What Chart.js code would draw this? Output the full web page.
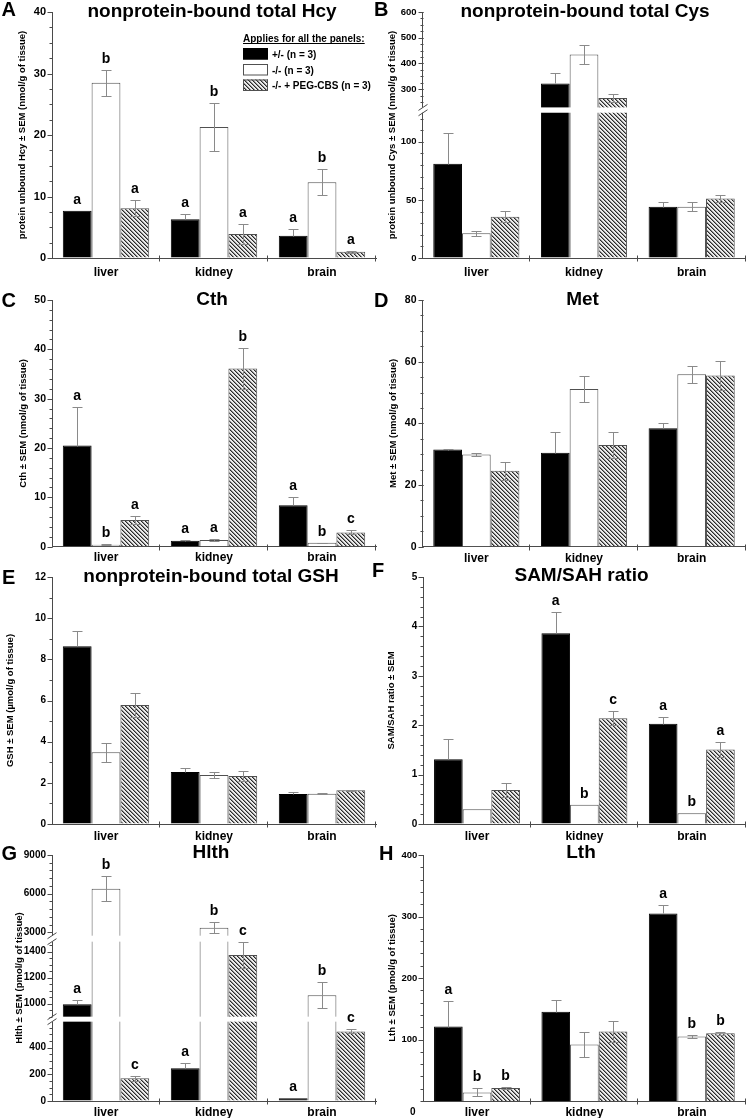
<!DOCTYPE html>
<html>
<head>
<meta charset="utf-8">
<script src="https://cdn.jsdelivr.net/npm/chart.js@4.4.1/dist/chart.umd.min.js"></script>
<style>
  body { margin: 0; background: #fff; width: 747px; height: 1118px; position: relative; overflow: hidden;
         font-family: "Liberation Sans", Arial, Helvetica, sans-serif; }
  canvas { position: absolute; }
  .txt { position: absolute; font-weight: bold; color: #000; white-space: nowrap; line-height: 1; }
</style>
</head>
<body>
<script>
// ---- data: rows = [+/-, -/-, -/- + PEG-CBS], columns = categories ----
const categories = ['liver', 'kidney', 'brain'];
const groups = ['+/- (n = 3)', '-/- (n = 3)', '-/- + PEG-CBS (n = 3)'];

const hcyMean = [[7.7, 6.3, 3.6], [28.5, 21.3, 12.3], [8.1, 3.9, 1.0]];
const hcySem = [[0, 0.9, 1.1], [2.1, 3.9, 2.1], [1.3, 1.6, 0.15]];
const hcyLetters = [['a', 'a', 'a'], ['b', 'b', 'b'], ['a', 'a', 'a']];
const hcyTicks = [0, 10, 20, 30, 40];

const cysMean = [[81, 322, 44.2], [21.3, 435, 44.2], [35.6, 266, 51.1]];
const cysSem = [[26.5, 39, 3.8], [2, 36, 3.8], [4.5, 17, 3.2]];
const cysTicks = [0, 50, 100, 300, 400, 500, 600];

const cthMean = [[20.5, 1.2, 8.4], [0.4, 1.35, 0.8], [5.4, 36.1, 2.9]];
const cthSem = [[7.9, 0.1, 1.7], [0.05, 0.15, 0.05], [0.8, 4.2, 0.4]];
const cthLetters = [['a', 'a', 'a'], ['b', 'a', 'b'], ['a', 'b', 'c']];
const cthTicks = [0, 10, 20, 30, 40, 50];

const metMean = [[31.5, 30.5, 38.4], [29.9, 51.1, 55.9], [24.6, 33.0, 55.5]];
const metSem = [[0.15, 6.6, 1.6], [0.6, 4.1, 2.8], [3.0, 4.1, 4.8]];
const metTicks = [0, 20, 40, 60, 80];

const gshMean = [[8.63, 2.53, 1.46], [3.48, 2.38, 1.47], [5.78, 2.33, 1.64]];
const gshSem = [[0.74, 0.19, 0.09], [0.46, 0.13, 0.03], [0.6, 0.24, 0.02]];
const gshTicks = [0, 2, 4, 6, 8, 10, 12];

const samMean = [[1.31, 3.86, 2.03], [0.30, 0.39, 0.22], [0.69, 2.14, 1.51]];
const samSem = [[0.41, 0.44, 0.14], [0, 0, 0], [0.14, 0.14, 0.16]];
const samLetters = [['', 'a', 'a'], ['', 'b', 'b'], ['', 'c', 'a']];
const samTicks = [0, 1, 2, 3, 4, 5];

const hlthMean = [[995, 245, 20], [6390, 3360, 1064], [170, 1374, 522]];
const hlthSem = [[30, 37, 0], [960, 410, 100], [17, 98, 15]];
const hlthLetters = [['a', 'a', 'a'], ['b', 'b', 'b'], ['c', 'c', 'c']];
const hlthTicks = [0, 200, 400, 1000, 1200, 1400, 3000, 6000, 9000];

const lthMean = [[121, 145, 305], [14, 92, 105], [21, 113, 110]];
const lthSem = [[42, 20, 13.5], [6.5, 20.6, 2], [1, 17, 2]];
const lthLetters = [['a', '', 'a'], ['b', '', 'b'], ['b', '', 'b']];
const lthTicks = [100, 200, 300, 400];

// ---- look ----
const FONT = '"Liberation Sans", Arial, Helvetica, sans-serif';
const AXIS = '#4a4a4a';
const ERR = '#8a8a8a';
Chart.defaults.font.family = FONT;
Chart.defaults.color = '#000';

function hatch() {
  const c = document.createElement('canvas');
  c.width = c.height = 4;
  const g = c.getContext('2d');
  g.fillStyle = '#ececec'; g.fillRect(0, 0, 4, 4);
  g.fillStyle = '#8f8f8f';
  for (let i = 0; i < 4; i++) g.fillRect((i + 1) % 4, i, 1, 1);
  g.fillStyle = '#2a2a2a';
  for (let i = 0; i < 4; i++) g.fillRect(i, i, 1, 1);
  return g.createPattern(c, 'repeat');
}
const fills = ['#000', '#fff', hatch()];
const borders = ['#000', '#505050', '#505050'];

// ---- panels (segments: [fromValue, toValue, fromFraction, toFraction]) ----
const rows = [[12, 258], [300, 546.7], [577.3, 824.3], [855, 1101]];
const panels = [
  { key: 'A', col: 0, row: 0, mean: hcyMean, sem: hcySem, letters: hcyLetters, ticks: hcyTicks,
    segs: [[0, 40, 0, 1]], minor: [[0, 40, 2.5]], xPad: 3, titleX: 22, tickSize: 11,
    yTitle: 'protein unbound Hcy ± SEM (nmol/g of tissue)', legend: true },
  { key: 'B', col: 1, row: 0, mean: cysMean, sem: cysSem, ticks: cysTicks,
    segs: [[0, 125, 0, 0.5905], [229, 600, 0.6122, 1]], minor: [[0, 120, 10], [250, 600, 25]], xPad: 3, titleX: 392, tickSize: 9.5,
    yTitle: 'protein unbound Cys ± SEM (nmol/g of tissue)' },
  { key: 'C', col: 0, row: 1, mean: cthMean, sem: cthSem, letters: cthLetters, ticks: cthTicks,
    segs: [[0, 50, 0, 1]], minor: [[0, 50, 2]], xPad: 0, titleX: 23, tickSize: 10.5,
    yTitle: 'Cth ± SEM (nmol/g of tissue)' },
  { key: 'D', col: 1, row: 1, mean: metMean, sem: metSem, ticks: metTicks,
    segs: [[0, 80, 0, 1]], minor: [[0, 80, 5]], xPad: 1, titleX: 393, tickSize: 10.5,
    yTitle: 'Met ± SEM (nmol/g of tissue)' },
  { key: 'E', col: 0, row: 2, mean: gshMean, sem: gshSem, ticks: gshTicks,
    segs: [[0, 12, 0, 1]], minor: [[0, 12, 1]], xPad: 1, titleX: 10, tickSize: 10,
    yTitle: 'GSH ± SEM (µmol/g of tissue)' },
  { key: 'F', col: 1, row: 2, mean: samMean, sem: samSem, letters: samLetters, ticks: samTicks,
    segs: [[0, 5, 0, 1]], minor: [[0, 5, 0.2]], xPad: 1, titleX: 391, left: 423.3, tickSize: 10,
    yTitle: 'SAM/SAH ratio ± SEM' },
  { key: 'G', col: 0, row: 3, mean: hlthMean, sem: hlthSem, letters: hlthLetters, ticks: hlthTicks,
    segs: [[0, 595, 0, 0.3225], [900, 1477, 0.3428, 0.6477], [2742, 9000, 0.672, 1]],
    minor: [[0, 550, 50], [900, 1450, 50], [3000, 9000, 600]], xPad: 0, titleX: 19, tickSize: 10,
    yTitle: 'Hlth ± SEM (pmol/g of tissue)' },
  { key: 'H', col: 1, row: 3, mean: lthMean, sem: lthSem, letters: lthLetters, ticks: lthTicks,
    segs: [[0, 400, 0, 1]], minor: [[0, 400, 20]], xPad: 0, titleX: 392, left: 423.3, tickSize: 9.5,
    yTitle: 'Lth ± SEM (pmol/g of tissue)' }
];
const byId = {};

function valueToDec(segs, v) {
  const s0 = segs[0];
  if (v <= s0[1]) return s0[2] + (v - s0[0]) / (s0[1] - s0[0]) * (s0[3] - s0[2]);
  for (let i = 1; i < segs.length; i++) {
    const [a, b, f0, f1] = segs[i], p = segs[i - 1];
    if (v < a) return p[3] + (v - p[1]) / (a - p[1]) * (f0 - p[3]);
    if (v <= b || i === segs.length - 1) return f0 + (v - a) / (b - a) * (f1 - f0);
  }
}

// linear scale with optional breaks
const LinearScale = Chart.registry.getScale('linear');
class BrokenScale extends LinearScale {
  static id = 'broken';
  static defaults = {};
  buildTicks() {
    const p = byId[this.chart.canvas.id];
    this.min = p.segs[0][0];
    this.max = p.segs[p.segs.length - 1][1];
    return p.ticks.map(v => ({ value: v }));
  }
  getPixelForValue(v) {
    if (v === null || isNaN(v)) return NaN;
    return this.getPixelForDecimal(valueToDec(byId[this.chart.canvas.id].segs, v));
  }
  getValueForPixel(px) {
    const d = this.getDecimalForPixel(px);
    const segs = byId[this.chart.canvas.id].segs;
    for (const [a, b, f0, f1] of segs) if (d <= f1) return a + (d - f0) / (f1 - f0) * (b - a);
    return this.max;
  }
}
Chart.register(BrokenScale);

const extras = {
  id: 'extras',
  afterDatasetsDraw(chart) {
    const p = byId[chart.canvas.id];
    const ctx = chart.ctx, ys = chart.scales.y, area = chart.chartArea;
    const ax = Math.round(area.left) + 0.5;
    ctx.save();
    ctx.lineWidth = 1;
    // error bars
    ctx.strokeStyle = ERR;
    p.mean.forEach((vals, i) => {
      const meta = chart.getDatasetMeta(i);
      vals.forEach((v, j) => {
        const e = p.sem[i][j];
        if (!e) return;
        const x = Math.round(meta.data[j].x) + 0.5;
        const hi = Math.round(ys.getPixelForValue(v + e)) + 0.5;
        const lo = Math.round(ys.getPixelForValue(i === 0 ? v : v - e)) + 0.5;
        ctx.beginPath();
        ctx.moveTo(x, lo); ctx.lineTo(x, hi);
        ctx.moveTo(x - 5, hi); ctx.lineTo(x + 5, hi);
        if (i !== 0) { ctx.moveTo(x - 5, lo); ctx.lineTo(x + 5, lo); }
        ctx.stroke();
      });
    });
    // axis breaks
    for (let k = 0; k + 1 < p.segs.length; k++) {
      const yLow = ys.getPixelForValue(p.segs[k][1]);
      const yHigh = ys.getPixelForValue(p.segs[k + 1][0]);
      ctx.fillStyle = '#fff';
      ctx.fillRect(area.left - 2, yHigh, area.right - area.left + 2, yLow - yHigh);
      ctx.strokeStyle = AXIS;
      ctx.beginPath();
      [yLow, yHigh].forEach(y => { ctx.moveTo(ax - 5, y + 3); ctx.lineTo(ax + 4, y - 3); });
      ctx.stroke();
    }
    // y ticks (major + minor)
    ctx.strokeStyle = AXIS;
    ctx.beginPath();
    p.minor.forEach(([a, b, step]) => {
      for (let v = a; v <= b + 1e-9; v += step) {
        const y = Math.round(ys.getPixelForValue(v)) + 0.5;
        ctx.moveTo(ax - 3, y); ctx.lineTo(ax, y);
      }
    });
    p.ticks.forEach(v => {
      const y = Math.round(ys.getPixelForValue(v)) + 0.5;
      ctx.moveTo(ax - 5, y); ctx.lineTo(ax, y);
    });
    // x ticks at category borders
    const by = Math.round(area.bottom) + 0.5;
    for (let k = 1; k <= categories.length; k++) {
      const x = Math.round(area.left + k * (area.right - area.left) / categories.length) - 0.5;
      ctx.moveTo(x, by - 3); ctx.lineTo(x, by + 3);
    }
    ctx.stroke();
    // significance letters
    if (p.letters) {
      ctx.fillStyle = '#000';
      ctx.font = 'bold 14px ' + FONT;
      ctx.textAlign = 'center';
      ctx.textBaseline = 'alphabetic';
      p.letters.forEach((ls, i) => {
        const meta = chart.getDatasetMeta(i);
        ls.forEach((t, j) => {
          if (!t) return;
          const y = ys.getPixelForValue(p.mean[i][j] + p.sem[i][j]) - 7;
          ctx.fillText(t, meta.data[j].x, y);
        });
      });
    }
    ctx.restore();
  },
  afterDraw(chart) {
    const p = byId[chart.canvas.id];
    if (!p.legend) return;
    const ctx = chart.ctx;
    const ox = -p.cx, oy = -p.top;
    ctx.save();
    ctx.fillStyle = '#000';
    ctx.font = 'bold 10px ' + FONT;
    ctx.textAlign = 'left';
    ctx.textBaseline = 'alphabetic';
    const head = 'Applies for all the panels:';
    ctx.fillText(head, 243 + ox, 41.5 + oy);
    const w = ctx.measureText(head).width;
    ctx.fillRect(243 + ox, 43 + oy, w, 1);
    [48, 64, 79.5].forEach((y, i) => {
      ctx.fillStyle = fills[i];
      ctx.fillRect(243 + ox, y + oy, 25, 11.5);
      ctx.strokeStyle = borders[i];
      ctx.lineWidth = 1;
      ctx.strokeRect(243.5 + ox, y + 0.5 + oy, 24, 10.5);
      ctx.fillStyle = '#000';
      ctx.fillText(groups[i], 272 + ox, y + 9.5 + oy);
    });
    ctx.restore();
  }
};

panels.forEach(p => {
  const canvas = document.createElement('canvas');
  canvas.id = 'panel' + p.key;
  const [T, B] = rows[p.row];
  p.cx = p.col ? 372 : 0;
  const cw = p.col ? 375 : 385;
  const L = p.left || (p.col ? 422.5 : 52);
  const R = p.col ? 745.5 : 376;
  p.top = T - 12;
  const ch = Math.round(B - p.top + 28);
  canvas.width = cw; canvas.height = ch;
  canvas.style.left = p.cx + 'px'; canvas.style.top = p.top + 'px';
  canvas.style.width = cw + 'px'; canvas.style.height = ch + 'px';
  document.body.appendChild(canvas);
  byId[canvas.id] = p;

  new Chart(canvas, {
    type: 'bar',
    data: {
      labels: categories,
      datasets: groups.map((g, i) => ({
        label: g,
        data: p.mean[i],
        backgroundColor: fills[i],
        borderColor: borders[i],
        borderWidth: 1,
        borderSkipped: 'start',
        categoryPercentage: 0.8,
        barPercentage: 1.0
      }))
    },
    options: {
      responsive: false,
      animation: false,
      events: [],
      layout: { padding: { left: 0, top: 12, right: p.cx + cw - R, bottom: 0 } },
      plugins: { legend: { display: false }, tooltip: { enabled: false } },
      scales: {
        x: {
          offset: true,
          grid: { offset: true, drawOnChartArea: false, tickLength: 4, color: 'rgba(0,0,0,0)', tickColor: 'rgba(0,0,0,0)' },
          border: { color: AXIS, width: 1 },
          ticks: { color: '#000', padding: p.xPad, maxRotation: 0, font: { size: 12, weight: 'bold' } },
          afterFit: s => { s.height = ch - (B - p.top); }
        },
        y: {
          type: 'broken',
          min: p.segs[0][0],
          max: p.segs[p.segs.length - 1][1],
          grid: { drawOnChartArea: false, tickLength: 5, color: 'rgba(0,0,0,0)', tickColor: 'rgba(0,0,0,0)' },
          border: { color: AXIS, width: 1 },
          ticks: { autoSkip: false, padding: 1, color: '#000', font: { size: p.tickSize, weight: 'bold' }, callback: v => String(v) },
          title: {
            display: true, text: p.yTitle, color: '#000',
            font: { size: 9.5, weight: 'bold' },
            padding: { top: p.titleX - p.cx - 5.7, bottom: 0 }
          },
          afterFit: s => { s.width = L - p.cx; }
        }
      }
    },
    plugins: [extras]
  });
});

// panel letters and titles
const heads = [
  ['A', 1.5, 16, 20, false], ['nonprotein-bound total Hcy', 212, 16.7, 19, true],
  ['B', 374, 16, 20, false], ['nonprotein-bound total Cys', 585, 16.7, 19, true],
  ['C', 1.5, 306.7, 20, false], ['Cth', 212, 305, 19, true],
  ['D', 374, 306.7, 20, false], ['Met', 582.5, 305, 19, true],
  ['E', 2, 584, 20, false], ['nonprotein-bound total GSH', 211, 582, 19, true],
  ['F', 372, 577, 20, false], ['SAM/SAH ratio', 581.5, 580.7, 19, true],
  ['G', 1.5, 860, 20, false], ['Hlth', 211, 858, 19, true],
  ['H', 379, 860, 20, false], ['Lth', 581, 858, 19, true],
  ['0', 410, 1115, 10, false]
];
heads.forEach(([t, x, base, size, centered]) => {
  const d = document.createElement('div');
  d.className = 'txt';
  d.textContent = t;
  d.style.fontSize = size + 'px';
  d.style.top = (base - 0.83 * size) + 'px';
  d.style.left = x + 'px';
  if (centered) d.style.transform = 'translateX(-50%)';
  document.body.appendChild(d);
});
</script>
</body>
</html>
